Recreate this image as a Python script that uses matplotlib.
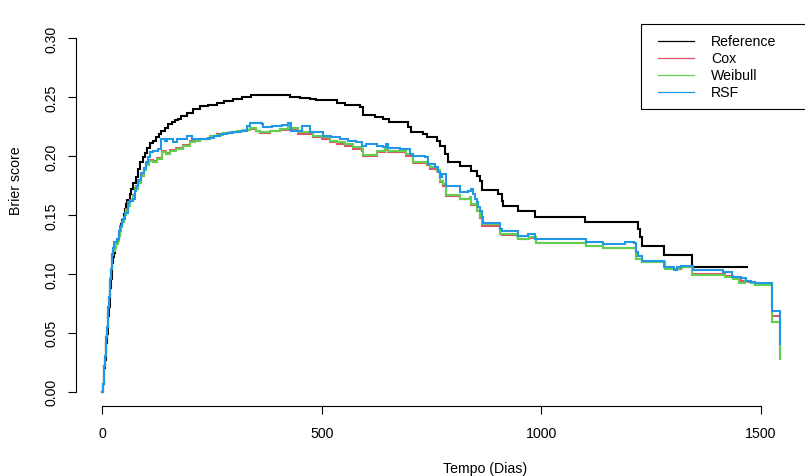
import matplotlib
matplotlib.use("Agg")
import matplotlib.pyplot as plt
from matplotlib.patches import Rectangle
from matplotlib.lines import Line2D

plt.rcParams['font.family'] = ['Liberation Sans', 'DejaVu Sans']

# ---------------- data (step functions, value holds from t until next t) -------------
series_names = ["Reference", "Cox", "Weibull", "RSF"]
series_colors = ["#000000", "#DF536B", "#61D04F", "#2297E6"]

ref_t = [0, 1.5, 3, 4.5, 6, 7.5, 9, 10.5, 12, 13.5, 15, 16.5, 18, 19.5, 21, 22.5, 24, 26,
         28, 31, 34, 37, 40, 43, 46, 48.5, 51, 54, 57, 62, 66, 71, 76, 81, 87, 93,
         97, 103, 108, 115, 123, 129, 134, 142, 150, 158, 165, 172, 180, 192, 207, 223,
         240, 261, 278, 298, 318, 340, 428, 450, 473, 488, 534, 552, 587, 595, 622, 640,
         654, 696, 704, 731, 739, 762, 769, 781, 788, 815, 841, 853, 860, 865, 902, 910,
         914, 948, 986, 1101, 1221, 1225, 1229, 1280, 1345, 1469]
ref_v = [0.000, 0.006, 0.013, 0.020, 0.027, 0.034, 0.041, 0.049, 0.056, 0.064, 0.072,
         0.080, 0.088, 0.096, 0.103, 0.109, 0.114, 0.118, 0.1225, 0.126, 0.130, 0.134,
         0.138, 0.142, 0.146, 0.151, 0.155, 0.159, 0.163, 0.168, 0.172, 0.177, 0.182,
         0.189, 0.195, 0.199, 0.203, 0.207,
         0.211, 0.213, 0.216, 0.219, 0.2215, 0.224, 0.227, 0.229, 0.2305, 0.232, 0.234,
         0.237, 0.240, 0.2428, 0.2438, 0.2448, 0.2465, 0.249, 0.2505, 0.2518, 0.2505,
         0.2496, 0.2488, 0.2478, 0.2448, 0.2436, 0.2415, 0.2351, 0.2337, 0.2315, 0.2287,
         0.2244, 0.2202, 0.2187, 0.2159, 0.2130, 0.2088, 0.2017, 0.1947, 0.1913, 0.1873,
         0.1833, 0.1790, 0.1712, 0.1678, 0.1620, 0.1580, 0.1536, 0.1480, 0.1437, 0.1380,
         0.1310, 0.1233, 0.1160, 0.1058, 0.1058]

cox_t = [0, 1.5, 3, 4.5, 6, 7.5, 9, 10.5, 12, 13.5, 15, 16.5, 18, 19.5, 21, 22.5, 24, 28,
         31, 35, 38, 40, 43, 46, 49, 52, 55, 58, 64, 70, 75, 81, 88, 94,
         100, 106, 115, 124, 135, 145, 154, 162, 169, 185, 200, 212, 223, 245, 262, 276,
         290, 306, 320, 336, 350, 359, 382, 405, 424, 428, 446, 473, 481, 500, 519, 534,
         553, 572, 591, 595, 617, 625, 644, 650, 693, 708, 739, 746, 762, 769, 777, 784,
         815, 837, 841, 853, 860, 866, 906, 910, 944, 948, 972, 988, 1103, 1141, 1217,
         1229, 1282, 1304, 1318, 1345, 1418, 1437, 1456, 1471, 1487, 1527, 1544]
cox_v = [0.000, 0.006, 0.014, 0.022, 0.030, 0.038, 0.046, 0.055, 0.064, 0.072, 0.080,
         0.088, 0.096, 0.104, 0.111, 0.116, 0.120, 0.123, 0.126, 0.129, 0.133,
         0.137, 0.141, 0.145, 0.148, 0.151, 0.155, 0.159, 0.163, 0.167, 0.173, 0.178,
         0.184, 0.189, 0.1930,
         0.1965, 0.1960, 0.1985, 0.2040, 0.2030, 0.2055, 0.2050, 0.2070, 0.2098, 0.2125,
         0.2135, 0.2150, 0.2175, 0.2185, 0.2200, 0.2208, 0.2215, 0.2222, 0.2230, 0.2212,
         0.2200, 0.2210, 0.2222, 0.2250, 0.2225, 0.2190, 0.2185, 0.2160, 0.2145, 0.2118,
         0.2105, 0.2090, 0.2062, 0.2045, 0.1998, 0.1998, 0.2035, 0.2050, 0.2035, 0.2005,
         0.1940, 0.1925, 0.1895, 0.1870, 0.1780, 0.1750, 0.1660, 0.1632, 0.1645, 0.1585,
         0.1530, 0.1475, 0.1405, 0.1335, 0.1330, 0.1318, 0.1293, 0.1305, 0.1258, 0.1236,
         0.1222, 0.1128, 0.1103, 0.1050, 0.1042, 0.1058, 0.1000, 0.0985, 0.0975, 0.0940,
         0.0930, 0.0912, 0.0640, 0.0340]

wei_t = [0, 1.5, 3, 4.5, 6, 7.5, 9, 10.5, 12, 13.5, 15, 16.5, 18, 19.5, 21, 22.5, 24, 28,
         31, 35, 38, 40, 43, 46, 49, 52, 55, 58, 64, 70, 75, 81, 88, 94,
         100, 106, 115, 124, 135, 145, 154, 162, 169, 185, 200, 212, 223, 245, 262, 276,
         290, 306, 320, 336, 350, 359, 382, 405, 424, 428, 446, 473, 481, 500, 519, 534,
         553, 572, 591, 595, 617, 625, 644, 650, 693, 708, 739, 746, 762, 769, 777, 784,
         815, 837, 841, 853, 860, 866, 906, 910, 944, 948, 972, 988, 1103, 1141, 1217,
         1229, 1282, 1312, 1320, 1345, 1418, 1437, 1452, 1465, 1479, 1487, 1527, 1544]
wei_v = [0.000, 0.006, 0.014, 0.022, 0.030, 0.038, 0.046, 0.055, 0.064, 0.072, 0.080,
         0.088, 0.096, 0.104, 0.111, 0.116, 0.119, 0.122, 0.125, 0.128, 0.132,
         0.136, 0.140, 0.144, 0.147, 0.150, 0.154, 0.158, 0.162, 0.166, 0.172, 0.177,
         0.183, 0.188, 0.1925,
         0.1960, 0.1950, 0.1975, 0.2032, 0.2020, 0.2045, 0.2040, 0.2060, 0.2088, 0.2117,
         0.2130, 0.2145, 0.2173, 0.2180, 0.2196, 0.2205, 0.2215, 0.2225, 0.2236, 0.2215,
         0.2202, 0.2215, 0.2230, 0.2264, 0.2236, 0.2207, 0.2202, 0.2173, 0.2159, 0.2130,
         0.2117, 0.2102, 0.2074, 0.2060, 0.2012, 0.2012, 0.2045, 0.2060, 0.2045, 0.2017,
         0.1950, 0.1932, 0.1904, 0.1880, 0.1790, 0.1760, 0.1670, 0.1640, 0.1650, 0.1590,
         0.1536, 0.1480, 0.1425, 0.1340, 0.1338, 0.1323, 0.1298, 0.1310, 0.1261, 0.1238,
         0.1216, 0.1125, 0.1103, 0.1040, 0.1047, 0.1055, 0.0990, 0.0970, 0.0956, 0.0920,
         0.0935, 0.0920, 0.0905, 0.0593, 0.0276]

rsf_t = [0, 1.5, 3, 4.5, 6, 7.5, 9, 10.5, 12, 13.5, 15, 16.5, 18, 19.5, 21, 22.5, 24.5, 27,
         33, 37, 40, 44, 47, 52, 59, 64, 70, 74, 77, 82,
         89, 94, 100, 104, 108, 115, 127, 134, 142, 148, 160, 170, 180, 192, 205, 225, 240,
         255, 268, 285, 298, 315, 329, 336, 363, 367, 386, 409, 424, 431, 454, 473, 503,
         522, 541, 560, 578, 591, 602, 625, 640, 646, 650, 678, 701, 708, 735, 743, 758,
         765, 769, 775, 784, 806, 816, 834, 840, 845, 850, 853, 857, 860, 865, 868, 906,
         910, 948, 970, 986, 1103, 1141, 1191, 1212, 1217, 1221, 1229, 1280, 1304, 1310,
         1318, 1346, 1415, 1436, 1456, 1468, 1479, 1487, 1527, 1544]
rsf_v = [0.000, 0.006, 0.014, 0.022, 0.030, 0.038, 0.046, 0.055, 0.064, 0.072, 0.080,
         0.088, 0.096, 0.104, 0.111, 0.117, 0.122, 0.1273, 0.130, 0.136,
         0.141, 0.144, 0.1465, 0.152, 0.1607, 0.162, 0.1635, 0.170, 0.1748, 0.180, 0.186,
         0.190, 0.1947, 0.199, 0.2032, 0.2045, 0.2060, 0.2145, 0.2125, 0.2145, 0.2122,
         0.2145, 0.2150, 0.2173, 0.2150, 0.2145, 0.2155, 0.2170, 0.2187, 0.2195, 0.2202,
         0.2210, 0.2258, 0.2278, 0.2272, 0.2249, 0.2258, 0.2266, 0.2278, 0.2215, 0.2258,
         0.2202, 0.2173, 0.2159, 0.2145, 0.2130, 0.2117, 0.2088, 0.2102, 0.2088, 0.2074,
         0.2102, 0.2066, 0.2060, 0.2017, 0.2003, 0.1989, 0.1932, 0.1904, 0.1862, 0.1819,
         0.1847, 0.1748, 0.1748, 0.1692, 0.1706, 0.1720, 0.1678, 0.1640, 0.1607, 0.1570,
         0.1536, 0.1480, 0.1431, 0.1385, 0.1366, 0.1323, 0.1338, 0.1295, 0.1267, 0.1253,
         0.1267, 0.1259, 0.1182, 0.1153, 0.1110, 0.1055, 0.1032, 0.1055, 0.1069, 0.1035,
         0.1012, 0.0975, 0.0961, 0.0941, 0.0927, 0.0919, 0.0686, 0.0403]

x_ticks = [0, 500, 1000, 1500]
y_ticks = [0.00, 0.05, 0.10, 0.15, 0.20, 0.25, 0.30]
y_ticklabels = ["0.00", "0.05", "0.10", "0.15", "0.20", "0.25", "0.30"]
x_label = "Tempo (Dias)"
y_label = "Brier score"

# ---------------- layout ----------------
W, H = 805, 477
fig = plt.figure(figsize=(W / 100, H / 100), dpi=100)

def fx(px):
    return px / W

def fy(py):
    return 1 - py / H

ax_l, ax_r, ax_b, ax_t = 76.0, 805.0, 406.6, 0.0
ax = fig.add_axes([fx(ax_l), fy(ax_b), fx(ax_r) - fx(ax_l), fy(ax_t) - fy(ax_b)])

# pixel calibration of reference
x0px, xscale = 102.3, 0.4388
y0px, yscale = 392.5, 1176.7
ax.set_xlim((ax_l - x0px) / xscale, (ax_r - x0px) / xscale)
ax.set_ylim((y0px - ax_b) / yscale, (y0px - ax_t) / yscale)

all_t = [ref_t, cox_t, wei_t, rsf_t]
all_v = [ref_v, cox_v, wei_v, rsf_v]
for tt, vv, c in zip(all_t, all_v, series_colors):
    ax.step(tt, vv, where="post", color=c, lw=1.5, solid_joinstyle="miter")

for s in ["top", "right"]:
    ax.spines[s].set_visible(False)
ax.spines["left"].set_bounds(0, 0.30)
ax.spines["bottom"].set_bounds(0, 1500)
for s in ["left", "bottom"]:
    ax.spines[s].set_linewidth(0.8)
    ax.spines[s].set_color("#000000")

ax.set_xticks(x_ticks)
ax.set_xticklabels([str(v) for v in x_ticks], fontsize=10.2)
ax.set_yticks(y_ticks)
ax.set_yticklabels(y_ticklabels, fontsize=10.2, rotation=90, va="center")
ax.tick_params(axis="both", length=6, width=0.8, color="#000000")
ax.tick_params(axis="x", pad=8.5)
ax.tick_params(axis="y", pad=6.5)

fig.text(fx(484.7), fy(469), x_label, ha="center", va="center", fontsize=10.2)
fig.text(fx(16), fy(181), y_label, ha="center", va="center", rotation=90, fontsize=10.2)

# legend box
leg_l, leg_t, leg_r, leg_b = 641.3, 24.7, 806.0, 109.7
fig.add_artist(Rectangle((fx(leg_l), fy(leg_b)), fx(leg_r) - fx(leg_l), fy(leg_t) - fy(leg_b),
                         transform=fig.transFigure, fill=False, edgecolor="#000000", lw=0.8))
row_y = [42.3, 59.1, 75.9, 92.6]
for name, c, ry in zip(series_names, series_colors, row_y):
    fig.add_artist(Line2D([fx(658), fx(694)], [fy(ry), fy(ry)], transform=fig.transFigure,
                          color=c, lw=0.9))
    fig.text(fx(711), fy(ry), name, ha="left", va="center", fontsize=10.2)

fig.savefig("out.png", dpi=100)
